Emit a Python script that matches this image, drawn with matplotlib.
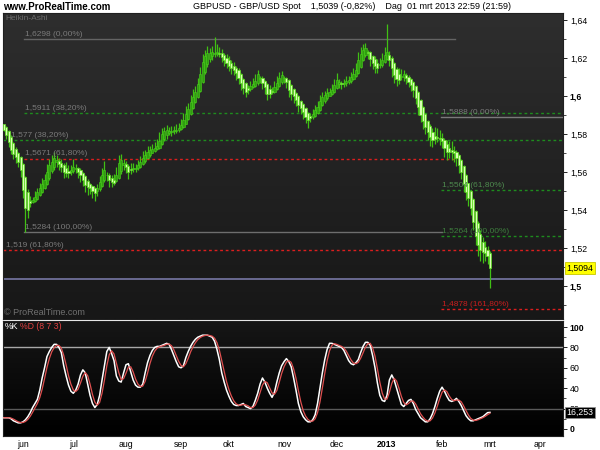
import numpy as np
import pandas as pd
import matplotlib
matplotlib.use('Agg')
import matplotlib.pyplot as plt
from matplotlib.colors import LinearSegmentedColormap
from matplotlib.ticker import MultipleLocator

plt.rcParams['font.family'] = ['Liberation Sans', 'DejaVu Sans']

# Heikin-Ashi close per trading day, 22 May 2012 .. 01 Mar 2013
ha_close = [
    1.5821, 1.5795, 1.5758, 1.5716, 1.5695, 1.5679, 1.5653, 1.5611, 1.5505, 1.5411,
    1.5400, 1.5437, 1.5453, 1.5468, 1.5495, 1.5516, 1.5537, 1.5558, 1.5600, 1.5637,
    1.5653, 1.5674, 1.5663, 1.5642, 1.5626, 1.5600, 1.5595, 1.5595, 1.5611, 1.5626,
    1.5621, 1.5600, 1.5584, 1.5558, 1.5532, 1.5521, 1.5516, 1.5500, 1.5489, 1.5516,
    1.5547, 1.5584, 1.5611, 1.5584, 1.5558, 1.5547, 1.5542, 1.5584, 1.5647, 1.5663,
    1.5647, 1.5626, 1.5600, 1.5611, 1.5621, 1.5621, 1.5637, 1.5653, 1.5674, 1.5689,
    1.5705, 1.5716, 1.5721, 1.5726, 1.5737, 1.5763, 1.5800, 1.5816, 1.5821, 1.5816,
    1.5816, 1.5821, 1.5821, 1.5832, 1.5847, 1.5874, 1.5905, 1.5932, 1.5968, 1.5995,
    1.6021, 1.6063, 1.6116, 1.6179, 1.6211, 1.6226, 1.6226, 1.6232, 1.6226, 1.6232,
    1.6221, 1.6205, 1.6189, 1.6174, 1.6158, 1.6147, 1.6137, 1.6121, 1.6095, 1.6068,
    1.6042, 1.6021, 1.6032, 1.6053, 1.6063, 1.6079, 1.6116, 1.6095, 1.6068, 1.6047,
    1.6011, 1.6011, 1.6021, 1.6047, 1.6068, 1.6095, 1.6111, 1.6095, 1.6074, 1.6032,
    1.6011, 1.6000, 1.5979, 1.5953, 1.5937, 1.5916, 1.5889, 1.5874, 1.5884, 1.5905,
    1.5926, 1.5942, 1.5974, 1.5995, 1.6005, 1.6016, 1.6021, 1.6032, 1.6058, 1.6084,
    1.6074, 1.6063, 1.6068, 1.6079, 1.6084, 1.6100, 1.6116, 1.6137, 1.6189, 1.6221,
    1.6242, 1.6253, 1.6226, 1.6195, 1.6174, 1.6158, 1.6147, 1.6168, 1.6189, 1.6216,
    1.6232, 1.6189, 1.6147, 1.6111, 1.6089, 1.6084, 1.6105, 1.6116, 1.6095, 1.6074,
    1.6058, 1.6032, 1.5989, 1.5942, 1.5900, 1.5868, 1.5837, 1.5811, 1.5784, 1.5768,
    1.5774, 1.5779, 1.5774, 1.5763, 1.5726, 1.5705, 1.5705, 1.5705, 1.5700, 1.5674,
    1.5637, 1.5600, 1.5537, 1.5495, 1.5463, 1.5411, 1.5337, 1.5263, 1.5216, 1.5189,
    1.5179, 1.5174, 1.5158, 1.5094]
first_open = 1.5850

# wick lengths in pips above / below the body
wick_up = [
    5, 8, 5, 10, 5, 8, 5, 5, 3, 3,
    20, 25, 15, 30, 20, 25, 30, 30, 40, 30,
    35, 30, 25, 15, 20, 10, 35, 30, 25, 40,
    20, 10, 10, 5, 5, 10, 5, 5, 5, 20,
    30, 35, 45, 15, 10, 15, 30, 40, 45, 30,
    20, 15, 10, 30, 25, 20, 25, 30, 35, 25,
    30, 20, 25, 30, 35, 45, 30, 20, 25, 20,
    25, 20, 30, 25, 30, 35, 40, 30, 35, 40,
    30, 30, 35, 40, 30, 35, 25, 30, 85, 40,
    30, 25, 10, 20, 25, 15, 20, 10, 10, 5,
    5, 5, 15, 25, 30, 35, 20, 10, 10, 5,
    5, 20, 25, 30, 35, 30, 20, 10, 5, 5,
    5, 5, 5, 5, 5, 5, 5, 5, 15, 25,
    25, 30, 30, 25, 20, 25, 20, 30, 30, 35,
    15, 10, 20, 25, 20, 25, 30, 35, 40, 35,
    30, 25, 10, 5, 5, 15, 20, 30, 35, 40,
    148, 20, 10, 5, 10, 30, 35, 20, 10, 10,
    5, 5, 5, 5, 5, 5, 5, 5, 10, 20,
    45, 50, 40, 30, 10, 20, 35, 45, 25, 10,
    5, 5, 5, 5, 5, 5, 5, 5, 10, 20,
    25, 30, 20, 10]
wick_down = [
    5, 20, 25, 20, 25, 30, 25, 35, 40, 125,
    40, 20, 5, 5, 5, 5, 5, 5, 5, 10,
    10, 20, 25, 30, 25, 30, 20, 25, 15, 10,
    20, 30, 35, 30, 35, 40, 30, 35, 40, 25,
    10, 5, 10, 30, 35, 25, 10, 5, 5, 20,
    25, 30, 35, 20, 15, 20, 10, 5, 5, 10,
    5, 10, 5, 5, 5, 5, 5, 10, 20, 15,
    20, 15, 10, 10, 5, 5, 5, 5, 5, 5,
    5, 5, 5, 5, 10, 15, 20, 20, 15, 15,
    15, 25, 30, 25, 25, 30, 25, 35, 30, 35,
    30, 25, 20, 10, 5, 5, 10, 25, 30, 35,
    30, 20, 10, 5, 5, 5, 10, 25, 30, 35,
    30, 35, 30, 35, 30, 35, 30, 40, 20, 10,
    5, 5, 5, 5, 10, 10, 5, 5, 5, 5,
    20, 25, 20, 15, 10, 10, 5, 5, 5, 5,
    5, 10, 30, 35, 30, 35, 25, 15, 10, 5,
    5, 30, 45, 40, 35, 20, 15, 25, 30, 25,
    30, 35, 30, 40, 35, 40, 35, 40, 45, 35,
    25, 20, 30, 35, 45, 40, 30, 40, 50, 45,
    40, 35, 40, 45, 40, 35, 40, 45, 60, 55,
    60, 45, 40, 104]

# Stochastic %K (8 7 3)
stoch_k = [
    11, 11, 11, 10, 8, 7, 6, 6, 7, 9,
    12, 16, 21, 25, 29, 38, 50, 60, 71, 76,
    80, 83, 83, 80, 75, 62, 52, 43, 37, 35,
    38, 44, 53, 58, 55, 44, 33, 25, 21, 24,
    33, 48, 62, 76, 80, 74, 67, 52, 47, 46,
    55, 63, 64, 56, 48, 43, 41, 41, 44, 55,
    65, 72, 77, 80, 81, 81, 82, 83, 84, 83,
    78, 72, 66, 61, 60, 62, 70, 76, 81, 85,
    88, 90, 91, 92, 92, 92, 91, 90, 86, 78,
    68, 55, 46, 38, 32, 27, 24, 23, 23, 24,
    25, 22, 21, 20, 22, 28, 35, 44, 50, 46,
    40, 35, 31, 36, 46, 55, 62, 66, 69, 66,
    61, 50, 38, 25, 17, 12, 9, 7, 7, 9,
    14, 25, 40, 55, 68, 78, 84, 84, 83, 82,
    81, 80, 77, 72, 67, 64, 63, 65, 68, 75,
    81, 85, 85, 82, 72, 60, 45, 33, 28, 27,
    33, 48, 53, 48, 40, 32, 24, 22, 25, 28,
    29, 25, 19, 15, 11, 9, 7, 7, 10, 15,
    22, 30, 37, 41, 37, 32, 28, 27, 28, 30,
    27, 23, 18, 13, 10, 8, 8, 9, 10, 11,
    12, 14, 16, 16.253]

# fibonacci levels drawn by the platform
fib_levels = [1.6298, 1.5911, 1.5888, 1.5770, 1.5671, 1.5504, 1.5284, 1.5264, 1.5190, 1.4878]
fib_texts = ['1,6298 (0,00%)', '1,5911 (38,20%)', '1,5888 (0,00%)', '1,577 (38,20%)',
             '1,5671 (61,80%)', '1,5504 (61,80%)', '1,5284 (100,00%)', '1,5264 (100,00%)',
             '1,519 (61,80%)', '1,4878 (161,80%)']
last_price = 1.5039

price_ticks = [1.50, 1.52, 1.54, 1.56, 1.58, 1.60, 1.62, 1.64]
price_tick_labels = ['1,5', '1,52', '1,54', '1,56', '1,58', '1,6', '1,62', '1,64']
stoch_ticks = [0, 20, 40, 60, 80, 100]
month_labels = ['jun', 'jul', 'aug', 'sep', 'okt', 'nov', 'dec', '2013', 'feb', 'mrt', 'apr']

n = len(ha_close)
idx = np.arange(n)
close = np.array(ha_close)
opens = np.zeros(n)
opens[0] = first_open
for i in range(1, n):
    opens[i] = (opens[i - 1] + close[i - 1]) / 2
top = np.maximum(opens, close)
bot = np.minimum(opens, close)
high = top + np.array(wick_up) * 1e-4
low = bot - np.array(wick_down) * 1e-4

k = pd.Series(stoch_k, dtype=float)
d = k.rolling(3, min_periods=1).mean()

# month positions on the trading-day axis
cal = pd.bdate_range('2012-05-22', '2013-04-30')
month_pos = [i for i in range(1, len(cal)) if cal[i].month != cal[i - 1].month]

fig = plt.figure(figsize=(6, 4.5), dpi=100)
fig.patch.set_facecolor('white')
ax = fig.add_axes([3 / 600, 1 - 319 / 450, 560 / 600, 306 / 450])
ax2 = fig.add_axes([3 / 600, 1 - 436 / 450, 560 / 600, 115 / 450])

grad = np.linspace(0, 1, 256).reshape(-1, 1)
ax.imshow(grad, extent=[0, 1, 0, 1], transform=ax.transAxes, origin='lower', aspect='auto',
          cmap=LinearSegmentedColormap.from_list('p', ['#171717', '#2e2e2e']), zorder=0)
ax2.imshow(grad, extent=[0, 1, 0, 1], transform=ax2.transAxes, origin='lower', aspect='auto',
           cmap=LinearSegmentedColormap.from_list('s', ['#000000', '#161616']), zorder=0)

# candles
bull = close >= opens
ax.vlines(idx, low, high, color='#40c014', lw=0.9, zorder=3)
ax.bar(idx[bull], (top - bot)[bull], bottom=bot[bull], width=0.9,
       color='#2ea00e', edgecolor='#4cd01e', lw=0.4, zorder=4)
ax.bar(idx[~bull], (top - bot)[~bull], bottom=bot[~bull], width=0.9,
       color='#d8ffb4', edgecolor='#5ade1c', lw=0.5, zorder=4)

# fibonacci lines: (start, end, color, style, text color, text x)
x_end = 233.5
fib_style = [
    (8.4, 188.4, '#646464', '-', '#7a7a7a', 8.4),
    (8.4, x_end, '#1e8c1e', '--', '#7a7a7a', 8.4),
    (182.5, x_end, '#7a7a7a', '-', '#7a7a7a', 182.5),
    (-0.35, x_end, '#1e8c1e', '--', '#7a7a7a', 2.6),
    (8.4, 188.4, '#dc1e1e', '--', '#7a7a7a', 8.4),
    (182.5, x_end, '#1e8c1e', '--', '#4e8a4e', 182.5),
    (8.4, 183.0, '#6e6e6e', '-', '#7a7a7a', 8.4),
    (182.5, x_end, '#1e8c1e', '--', '#3e7e3e', 182.5),
    (-0.35, x_end, '#dc1e1e', '--', '#7a7a7a', 0.5),
    (182.5, x_end, '#dc1e1e', '--', '#c81e1e', 182.5),
]
for lvl, txt, (x0, x1, c, ls, tc, tx) in zip(fib_levels, fib_texts, fib_style):
    if ls == '--':
        ax.plot([x0, x1], [lvl, lvl], color=c, lw=1.0, ls=(0, (2, 2)), zorder=2)
    else:
        ax.plot([x0, x1], [lvl, lvl], color=c, lw=1.0, zorder=2)
    ax.annotate(txt, (tx, lvl), xytext=(1, 0.8), textcoords='offset points',
                fontsize=6, color=tc, va='bottom', ha='left', zorder=5)

ax.axhline(last_price, color='#70709a', lw=1.3, zorder=2)

ax.text(0.004, 0.981, 'Heikin-Ashi', transform=ax.transAxes, fontsize=6,
        color='#6a6a6a', va='center')
ax.text(0.002, 0.022, '\u00a9 ProRealTime.com', transform=ax.transAxes, fontsize=6.5,
        color='#707070', va='center')

ax.set_xlim(-0.35, x_end)
ax.set_ylim(1.48263, 1.64368)
ax.yaxis.tick_right()
ax.set_yticks(price_ticks)
ax.set_yticklabels(price_tick_labels)
for lab in ax.get_yticklabels():
    if lab.get_text() in ('1,5', '1,6'):
        lab.set_fontweight('bold')
        lab.set_fontsize(7)
ax.yaxis.set_minor_locator(MultipleLocator(0.01))
ax.tick_params(axis='y', which='major', length=3, width=0.6, labelsize=6.3, pad=2)
ax.tick_params(axis='y', which='minor', length=2, width=0.5)
ax.set_xticks([])
for s in ax.spines.values():
    s.set_color('#202020')
    s.set_linewidth(0.8)

ax.text(1.006, close[-1], ('%.4f' % close[-1]).replace('.', ','),
        transform=ax.get_yaxis_transform(), fontsize=6.3, color='black', va='center',
        ha='left', bbox=dict(boxstyle='square,pad=0.15', fc='#ffff00', ec='#c8c800', lw=0.6),
        zorder=6, clip_on=False)

# stochastic panel
ax2.axhline(80, color='#a8a8a8', lw=1.0, zorder=1)
ax2.axhline(20, color='#5a5a5a', lw=1.0, zorder=1)
ax2.plot(idx, k, color='white', lw=1.1, zorder=3)
ax2.plot(idx, d, color='#e05050', lw=0.9, zorder=4)
ax2.text(0.004, 0.948, '%K', transform=ax2.transAxes, fontsize=6.3, color='white', va='center')
ax2.text(0.030, 0.948, '%D (8 7 3)', transform=ax2.transAxes, fontsize=6.3,
         color='#e04040', va='center')
ax2.set_xlim(-0.35, x_end)
ax2.set_ylim(-6.9, 105.9)
ax2.yaxis.tick_right()
ax2.set_yticks(stoch_ticks)
ax2.set_yticklabels([str(t) for t in stoch_ticks])
for lab in ax2.get_yticklabels():
    if lab.get_text() in ('0', '100'):
        lab.set_fontweight('bold')
        lab.set_fontsize(7)
ax2.yaxis.set_minor_locator(MultipleLocator(10))
ax2.tick_params(axis='y', which='major', length=3, width=0.6, labelsize=6.3, pad=2)
ax2.tick_params(axis='y', which='minor', length=2, width=0.5)
ax2.set_xticks(month_pos)
ax2.set_xticklabels(month_labels)
for lab in ax2.get_xticklabels():
    if lab.get_text() == '2013':
        lab.set_fontweight('bold')
        lab.set_fontsize(7)
ax2.tick_params(axis='x', length=0, labelsize=6.3, pad=3)
for s in ax2.spines.values():
    s.set_color('#202020')
    s.set_linewidth(0.8)

# current value box sits over the "20" tick, as on the platform
ax2.text(1.006, stoch_k[-1], ('%.3f' % stoch_k[-1]).replace('.', ','),
         transform=ax2.get_yaxis_transform(), fontsize=6.3, color='white', va='center',
         ha='left', bbox=dict(boxstyle='square,pad=0.15', fc='black', ec='#909090', lw=0.6),
         zorder=6, clip_on=False)

# header
fig.text(3 / 600, 1 - 6.5 / 450, 'www.ProRealTime.com', fontsize=7, fontweight='bold', va='center')
fig.text(193 / 600, 1 - 6.5 / 450,
         'GBPUSD - GBP/USD Spot    1,5039 (-0,82%)    Dag  01 mrt 2013 22:59 (21:59)',
         fontsize=6.5, va='center')

fig.savefig('out.png', dpi=100, facecolor='white')
